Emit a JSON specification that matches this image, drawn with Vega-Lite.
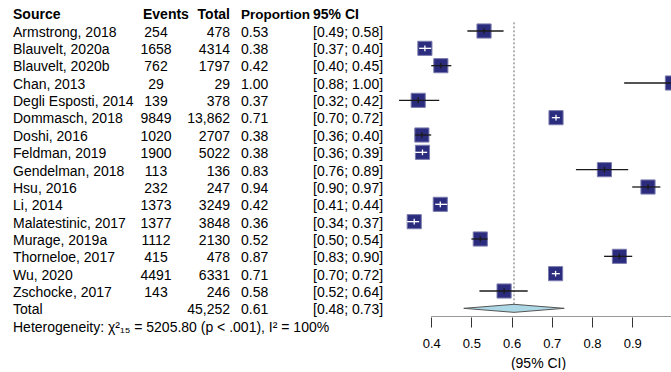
{
  "$schema": "https://vega.github.io/schema/vega-lite/v6.json",
  "padding": {"left": 13, "top": 5, "right": 0, "bottom": 0},
  "bounds": "flush",
  "spacing": 0,
  "background": "white",
  "config": {
    "view": {"stroke": null},
    "font": "Liberation Sans",
    "text": {"font": "Liberation Sans", "fontSize": 14, "baseline": "middle", "color": "black", "dy": 1.5}
  },
  "datasets": {
    "rows": [
      {"row": 1, "study": "Armstrong, 2018", "events": "254", "total": "478", "est": 0.5314, "lower": 0.49, "upper": 0.58, "ci": "[0.49; 0.58]"},
      {"row": 2, "study": "Blauvelt, 2020a", "events": "1658", "total": "4314", "est": 0.3843, "lower": 0.37, "upper": 0.40, "ci": "[0.37; 0.40]"},
      {"row": 3, "study": "Blauvelt, 2020b", "events": "762", "total": "1797", "est": 0.4240, "lower": 0.40, "upper": 0.45, "ci": "[0.40; 0.45]"},
      {"row": 4, "study": "Chan, 2013", "events": "29", "total": "29", "est": 1.0, "lower": 0.88, "upper": 1.0, "ci": "[0.88; 1.00]"},
      {"row": 5, "study": "Degli Esposti, 2014", "events": "139", "total": "378", "est": 0.3677, "lower": 0.32, "upper": 0.42, "ci": "[0.32; 0.42]"},
      {"row": 6, "study": "Dommasch, 2018", "events": "9849", "total": "13,862", "est": 0.7105, "lower": 0.70, "upper": 0.72, "ci": "[0.70; 0.72]"},
      {"row": 7, "study": "Doshi, 2016", "events": "1020", "total": "2707", "est": 0.3768, "lower": 0.36, "upper": 0.40, "ci": "[0.36; 0.40]"},
      {"row": 8, "study": "Feldman, 2019", "events": "1900", "total": "5022", "est": 0.3783, "lower": 0.36, "upper": 0.39, "ci": "[0.36; 0.39]"},
      {"row": 9, "study": "Gendelman, 2018", "events": "113", "total": "136", "est": 0.8309, "lower": 0.76, "upper": 0.89, "ci": "[0.76; 0.89]"},
      {"row": 10, "study": "Hsu, 2016", "events": "232", "total": "247", "est": 0.9393, "lower": 0.90, "upper": 0.97, "ci": "[0.90; 0.97]"},
      {"row": 11, "study": "Li, 2014", "events": "1373", "total": "3249", "est": 0.4226, "lower": 0.41, "upper": 0.44, "ci": "[0.41; 0.44]"},
      {"row": 12, "study": "Malatestinic, 2017", "events": "1377", "total": "3848", "est": 0.3578, "lower": 0.34, "upper": 0.37, "ci": "[0.34; 0.37]"},
      {"row": 13, "study": "Murage, 2019a", "events": "1112", "total": "2130", "est": 0.5221, "lower": 0.50, "upper": 0.54, "ci": "[0.50; 0.54]"},
      {"row": 14, "study": "Thorneloe, 2017", "events": "415", "total": "478", "est": 0.8682, "lower": 0.83, "upper": 0.90, "ci": "[0.83; 0.90]"},
      {"row": 15, "study": "Wu, 2020", "events": "4491", "total": "6331", "est": 0.7094, "lower": 0.70, "upper": 0.72, "ci": "[0.70; 0.72]"},
      {"row": 16, "study": "Zschocke, 2017", "events": "143", "total": "246", "est": 0.5813, "lower": 0.52, "upper": 0.64, "ci": "[0.52; 0.64]"},
      {"row": 17, "study": "Total", "events": "", "total": "45,252", "est": 0.606, "lower": 0.48, "upper": 0.73, "ci": "[0.48; 0.73]"}
    ]
  },
  "hconcat": [
    {
      "width": 130, "height": 330,
      "layer": [
        {
          "data": {"values": [{"row": 0, "label": "Source"}]},
          "mark": {"type": "text", "align": "left", "fontWeight": "bold"},
          "encoding": {
            "x": {"value": 0},
            "y": {"field": "row", "type": "quantitative", "scale": {"domain": [-0.5, 18.5], "reverse": true, "nice": false, "zero": false}, "axis": null},
            "text": {"field": "label"}
          }
        },
        {
          "data": {"name": "rows"},
          "mark": {"type": "text", "align": "left"},
          "encoding": {
            "x": {"value": 0},
            "y": {"field": "row", "type": "quantitative", "axis": null},
            "text": {"field": "study"}
          }
        },
        {
          "data": {"values": [{"row": 18, "label": "Heterogeneity: χ²₁₅ = 5205.80 (p < .001), I² = 100%"}]},
          "mark": {"type": "text", "align": "left"},
          "encoding": {
            "x": {"value": 0},
            "y": {"field": "row", "type": "quantitative", "axis": null},
            "text": {"field": "label"}
          }
        }
      ]
    },
    {
      "width": 26, "height": 330,
      "layer": [
        {
          "data": {"values": [{"row": 0, "label": "Events"}]},
          "mark": {"type": "text", "align": "left", "fontWeight": "bold"},
          "encoding": {
            "x": {"value": 0},
            "y": {"field": "row", "type": "quantitative", "scale": {"domain": [-0.5, 18.5], "reverse": true, "nice": false, "zero": false}, "axis": null},
            "text": {"field": "label"}
          }
        },
        {
          "data": {"name": "rows"},
          "mark": {"type": "text", "align": "center"},
          "encoding": {
            "y": {"field": "row", "type": "quantitative", "axis": null},
            "text": {"field": "events"}
          }
        }
      ]
    },
    {
      "width": 61, "height": 330,
      "layer": [
        {
          "data": {"values": [{"row": 0, "label": "Total"}]},
          "mark": {"type": "text", "align": "right", "fontWeight": "bold"},
          "encoding": {
            "x": {"value": "width"},
            "y": {"field": "row", "type": "quantitative", "scale": {"domain": [-0.5, 18.5], "reverse": true, "nice": false, "zero": false}, "axis": null},
            "text": {"field": "label"}
          }
        },
        {
          "data": {"name": "rows"},
          "mark": {"type": "text", "align": "right"},
          "encoding": {
            "x": {"value": "width"},
            "y": {"field": "row", "type": "quantitative", "axis": null},
            "text": {"field": "total"}
          }
        }
      ]
    },
    {
      "width": 83, "height": 330,
      "layer": [
        {
          "data": {"values": [{"row": 0, "label": "Proportion"}]},
          "mark": {"type": "text", "align": "left", "fontWeight": "bold", "dx": 11, "fontSize": 13.5},
          "encoding": {
            "x": {"value": 0},
            "y": {"field": "row", "type": "quantitative", "scale": {"domain": [-0.5, 18.5], "reverse": true, "nice": false, "zero": false}, "axis": null},
            "text": {"field": "label"}
          }
        },
        {
          "data": {"name": "rows"},
          "mark": {"type": "text", "align": "left", "dx": 11},
          "encoding": {
            "x": {"value": 0},
            "y": {"field": "row", "type": "quantitative", "axis": null},
            "text": {"field": "est", "type": "quantitative", "format": ".2f"}
          }
        }
      ]
    },
    {
      "width": 78, "height": 330,
      "layer": [
        {
          "data": {"values": [{"row": 0, "label": "95% CI"}]},
          "mark": {"type": "text", "align": "left", "fontWeight": "bold"},
          "encoding": {
            "x": {"value": 0},
            "y": {"field": "row", "type": "quantitative", "scale": {"domain": [-0.5, 18.5], "reverse": true, "nice": false, "zero": false}, "axis": null},
            "text": {"field": "label"}
          }
        },
        {
          "data": {"name": "rows"},
          "mark": {"type": "text", "align": "left"},
          "encoding": {
            "x": {"value": 0},
            "y": {"field": "row", "type": "quantitative", "axis": null},
            "text": {"field": "ci"}
          }
        }
      ]
    },
    {
      "width": 280, "height": 312,
      "data": {"name": "rows"},
      "layer": [
        {
          "transform": [{"filter": "datum.row == 17"}],
          "mark": {"type": "rule", "color": "#666666", "strokeDash": [2, 2], "strokeWidth": 1},
          "encoding": {
            "x": {"field": "est", "type": "quantitative", "scale": {"domain": [0.3, 0.9965], "nice": false, "zero": false},
              "axis": {"values": [0.4, 0.5, 0.6, 0.7, 0.8, 0.9], "format": ".1f", "domain": false, "grid": false, "tickSize": 10, "tickColor": "#333333", "tickWidth": 1, "labelFont": "Liberation Sans", "labelFontSize": 13, "labelColor": "black", "labelPadding": 10, "title": "(95% CI)", "titleFont": "Liberation Sans", "titleFontSize": 14, "titleFontWeight": "normal", "titleColor": "black", "titlePadding": 6, "titleX": 147}},
            "y": {"datum": 0.5, "type": "quantitative", "scale": {"domain": [-0.5, 17.5], "reverse": true, "nice": false, "zero": false}, "axis": null},
            "y2": {"datum": 17.15}
          }
        },
        {
          "transform": [{"filter": "datum.row == 17"}],
          "mark": {"type": "rule", "color": "#333333", "strokeWidth": 1, "clip": true},
          "encoding": {
            "x": {"datum": 0.4, "type": "quantitative"},
            "x2": {"datum": 1.05},
            "y": {"datum": 17.5, "type": "quantitative"}
          }
        },
        {
          "transform": [{"filter": "datum.row <= 16"}],
          "mark": {"type": "point", "shape": "square", "filled": true, "size": 200, "color": "#2b2c7e", "stroke": "#7b7cae", "strokeWidth": 1, "opacity": 1, "clip": true},
          "encoding": {
            "x": {"field": "est", "type": "quantitative"},
            "y": {"field": "row", "type": "quantitative"}
          }
        },
        {
          "transform": [{"filter": "datum.row <= 16"}],
          "mark": {"type": "rule", "strokeWidth": 1.3, "clip": true},
          "encoding": {
            "x": {"field": "lower", "type": "quantitative"},
            "x2": {"field": "upper"},
            "y": {"field": "row", "type": "quantitative"},
            "color": {"condition": {"test": "datum.upper - datum.lower < 0.035", "value": "white"}, "value": "#1a1a1a"}
          }
        },
        {
          "transform": [{"filter": "datum.row <= 16"}],
          "mark": {"type": "point", "shape": "M0,-1L0,1", "filled": false, "size": 32, "strokeWidth": 1.3, "opacity": 1, "clip": true},
          "encoding": {
            "x": {"field": "est", "type": "quantitative"},
            "y": {"field": "row", "type": "quantitative"},
            "color": {"condition": {"test": "datum.upper - datum.lower < 0.035", "value": "white"}, "value": "#1a1a1a"}
          }
        },
        {
          "transform": [{"filter": "datum.row == 17"}],
          "mark": {"type": "point", "shape": "M-1,0L0,-0.08L1,0L0,0.08Z", "filled": true, "size": 10100, "color": "#add8e6", "stroke": "#555555", "strokeWidth": 1, "opacity": 1},
          "encoding": {
            "x": {"field": "est", "type": "quantitative"},
            "y": {"field": "row", "type": "quantitative"}
          }
        }
      ]
    }
  ]
}
